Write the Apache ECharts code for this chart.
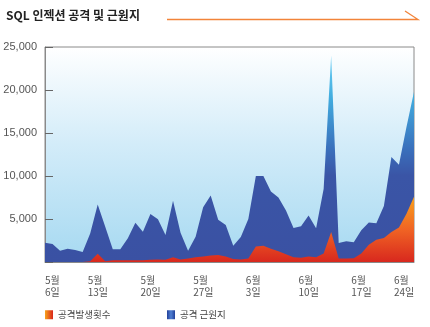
<!DOCTYPE html>
<html><head><meta charset="utf-8">
<script src="https://cdn.jsdelivr.net/npm/echarts@6/dist/echarts.min.js"></script>
<style>html,body{margin:0;padding:0;background:#fff}#c{width:430px;height:327px}</style>
</head><body><div id="c"></div>
<script>
const categories = [
  '5월 6일','5월 7일','5월 8일','5월 9일','5월 10일','5월 11일','5월 12일','5월 13일','5월 14일','5월 15일',
  '5월 16일','5월 17일','5월 18일','5월 19일','5월 20일','5월 21일','5월 22일','5월 23일','5월 24일','5월 25일',
  '5월 26일','5월 27일','5월 28일','5월 29일','5월 30일','5월 31일','6월 1일','6월 2일','6월 3일','6월 4일',
  '6월 5일','6월 6일','6월 7일','6월 8일','6월 9일','6월 10일','6월 11일','6월 12일','6월 13일','6월 14일',
  '6월 15일','6월 16일','6월 17일','6월 18일','6월 19일','6월 20일','6월 21일','6월 22일','6월 23일','6월 24일'
];
const attackSources = [2250,2100,1300,1550,1400,1160,3300,6700,4100,1480,
  1480,2750,4570,3530,5580,4960,3140,7130,3400,1310,
  2940,6360,7720,4900,4300,1900,2900,5000,10000,10000,
  8200,7500,6000,3950,4150,5400,3920,8500,24000,2200,
  2400,2300,3700,4600,4500,6500,12200,11300,15700,19800];
const attackCounts = [0,0,0,0,0,0,100,950,100,200,
  200,200,200,200,250,300,250,550,300,400,
  550,650,750,800,650,350,300,400,1800,1900,
  1550,1250,900,550,500,650,550,1000,3500,400,
  400,450,1000,2000,2600,2800,3500,4000,5600,7600];
const seriesNames = ['공격발생횟수', '공격 근원지'];
const titleText = 'SQL 인젝션 공격 및 근원지';
const yMax = 25000, yStep = 5000;

const LG = echarts.graphic.LinearGradient;
const chart = echarts.init(document.getElementById('c'));
const kr = '"Noto Sans CJK KR", sans-serif';
chart.setOption({
  animation: false,
  backgroundColor: '#ffffff',
  title: {
    text: titleText, left: 6, top: 9, padding: 0,
    textStyle: { fontSize: 12, fontWeight: 'bold', color: '#222', fontFamily: kr }
  },
  graphic: [{
    type: 'polyline', silent: true,
    shape: { points: [[167, 19.5], [418, 19.5], [405, 11]] },
    style: { stroke: '#f2843a', lineWidth: 1.3, fill: null }
  }],
  legend: [
    { data: [seriesNames[0]], left: 45, top: 310, icon: 'rect', itemWidth: 8, itemHeight: 9, itemGap: 7, padding: 0,
      textStyle: { fontSize: 9.5, color: '#444', fontFamily: kr } },
    { data: [seriesNames[1]], left: 167, top: 310, icon: 'rect', itemWidth: 8, itemHeight: 9, padding: 0,
      textStyle: { fontSize: 9.5, color: '#444', fontFamily: kr } }
  ],
  grid: {
    left: 45, right: 16, top: 47, bottom: 65, show: true,
    borderColor: '#8a8a8a', borderWidth: 1,
    backgroundColor: new LG(0, 0, 0, 1, [
      { offset: 0, color: '#ffffff' }, { offset: 0.45, color: '#d3ecf9' }, { offset: 1, color: '#a6d9f1' }
    ])
  },
  xAxis: {
    type: 'category', data: categories, boundaryGap: false,
    axisLine: { lineStyle: { color: '#8a8a8a' } },
    axisTick: { show: false },
    axisLabel: {
      interval: 6, margin: 12, color: '#555',
      alignMinLabel: 'left', alignMaxLabel: 'right',
      formatter: v => v.split(' ').map(s => '{a|' + s + '}').join('\n'),
      rich: { a: { width: 20, align: 'left', fontSize: 10, lineHeight: 12, color: '#555', fontFamily: kr } }
    },
    splitLine: { show: false }
  },
  yAxis: {
    type: 'value', min: 0, max: yMax, interval: yStep,
    axisLine: { show: true, lineStyle: { color: '#8a8a8a' } },
    axisTick: { show: true, inside: true, length: 8, lineStyle: { color: '#666' } },
    axisLabel: {
      margin: 8, fontSize: 11, color: '#555', fontFamily: '"Liberation Sans", Arial, sans-serif',
      formatter: v => v === 0 ? '' : String(v).replace(/\B(?=(\d{3})+(?!\d))/g, ',')
    },
    splitLine: { show: false }
  },
  series: [
    {
      name: seriesNames[1], type: 'line', data: attackSources, symbol: 'none', z: 2,
      lineStyle: { width: 0 },
      itemStyle: { color: new LG(0, 0, 1, 0, [
        { offset: 0, color: '#22409a' }, { offset: 0.5, color: '#4f7fd2' }, { offset: 1, color: '#22409a' }]) },
      areaStyle: { opacity: 1, color: new LG(0, 0, 0, 1, [
        { offset: 0, color: '#6fd0f4' }, { offset: 0.2, color: '#42addf' },
        { offset: 0.45, color: '#3a70bc' }, { offset: 0.58, color: '#3a55a6' }, { offset: 1, color: '#3a51a3' }]) }
    },
    {
      name: seriesNames[0], type: 'line', data: attackCounts, symbol: 'none', z: 3,
      lineStyle: { width: 0 },
      itemStyle: { color: new LG(0, 0, 1, 0, [
        { offset: 0, color: '#f7a21c' }, { offset: 1, color: '#d9261c' }]) },
      areaStyle: { opacity: 1, color: new LG(0, 0, 0, 1, [
        { offset: 0, color: '#f9a11b' }, { offset: 0.5, color: '#f06424' }, { offset: 1, color: '#d8281e' }]) }
    }
  ]
});
</script></body></html>
